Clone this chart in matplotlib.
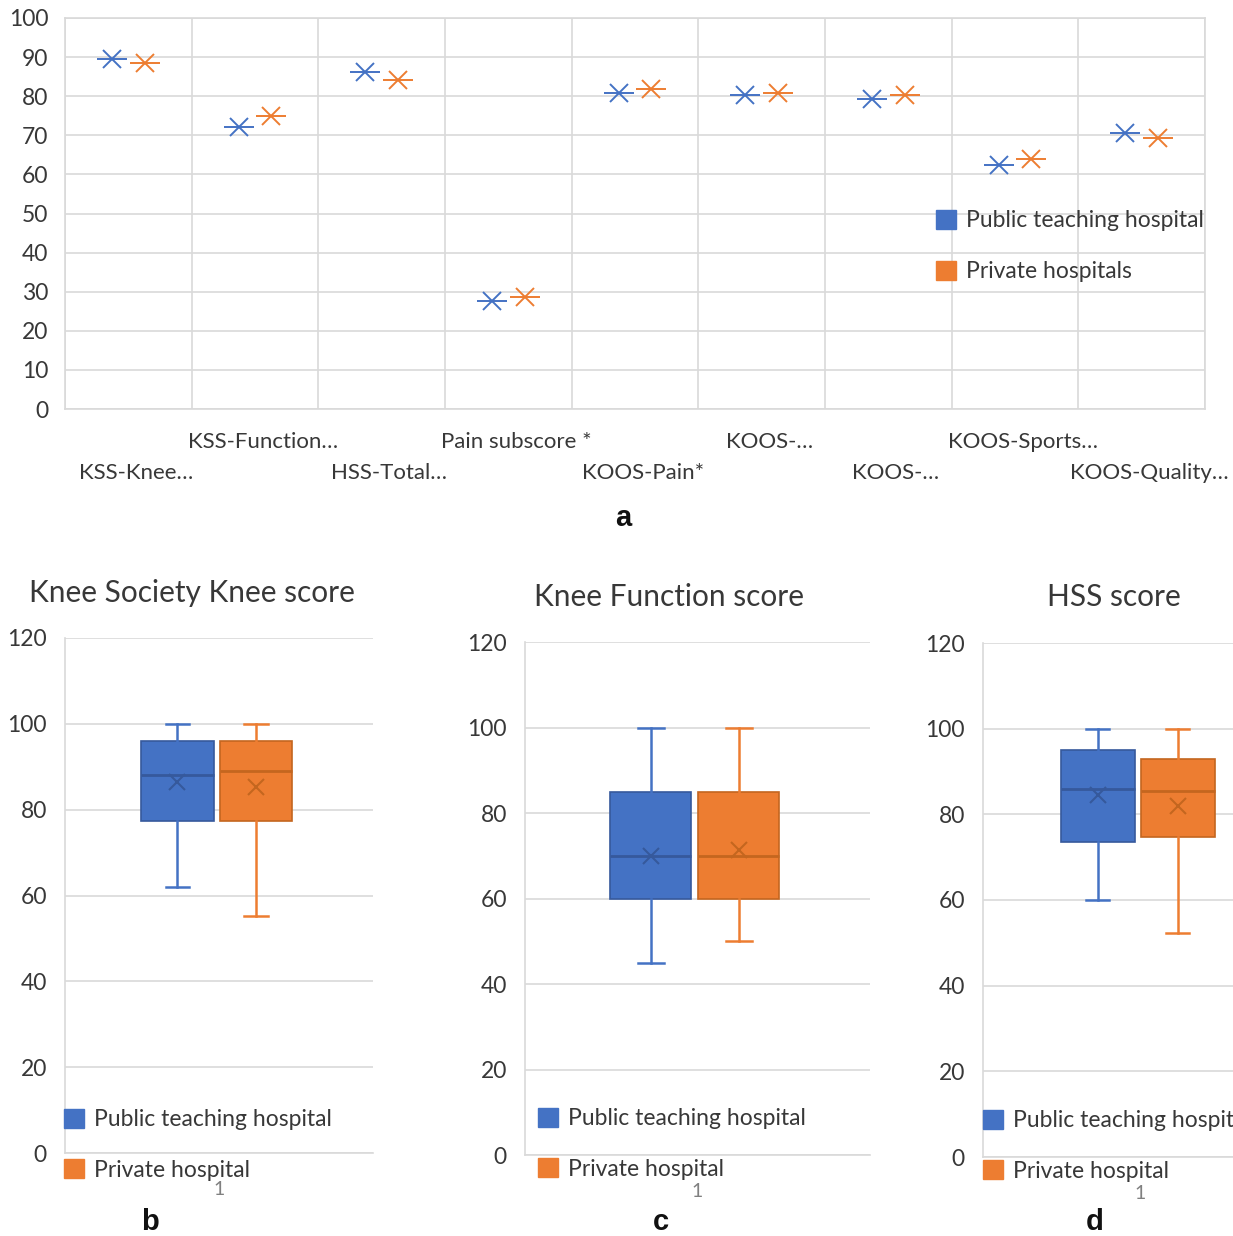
import matplotlib.pyplot as plt
import numpy as np
from matplotlib.patches import Patch

plt.rcParams['font.family'] = ['Lato', 'DejaVu Sans']

W, H = 1233, 1236
blue = '#4472C4'
orange = '#ED7D31'
blue_dark = '#36599c'
orange_dark = '#c4661f'
grid_col = '#d9d9d9'
text_col = '#383838'

# panel a: mean scores per category
categories = ['KSS-Knee…', 'KSS-Function…', 'HSS-Total…', 'Pain subscore *', 'KOOS-Pain*',
              'KOOS-…', 'KOOS-…', 'KOOS-Sports…', 'KOOS-Quality…']
public_means = [89.4, 72.2, 86.2, 27.6, 80.8, 80.3, 79.3, 62.4, 70.6]
private_means = [88.4, 75.0, 84.1, 28.6, 81.8, 80.8, 80.3, 63.9, 69.3]

# panels b-d: box plot summaries
box_titles = ['Knee Society Knee score', 'Knee Function score', 'HSS score']
box_letters = ['b', 'c', 'd']
pub_whislo = [62, 45, 60]
pub_q1 = [77.4, 60, 73.6]
pub_med = [88, 70, 85.8]
pub_q3 = [96, 85, 95.1]
pub_whishi = [100, 100, 100]
pub_mean = [86.4, 70, 84.4]
priv_whislo = [55.3, 50, 52.3]
priv_q1 = [77.4, 60, 74.7]
priv_med = [88.9, 70, 85.4]
priv_q3 = [96, 85, 93.0]
priv_whishi = [100, 100, 100]
priv_mean = [85.2, 71.3, 82.0]

fig = plt.figure(figsize=(W / 100, H / 100), dpi=100)

def px_rect(left, right, top, bottom):
    return [left / W, 1 - bottom / H, (right - left) / W, (bottom - top) / H]

# ---- panel a ----
ax = fig.add_axes(px_rect(65, 1205, 18, 409))
x = np.arange(len(categories))
for vals, off, col in [(public_means, -0.13, blue), (private_means, 0.13, orange)]:
    ax.plot(x + off, vals, ls='none', marker='x', ms=13, mew=1.4, color=col)
    ax.plot(x + off, vals, ls='none', marker='_', ms=21, mew=1.4, color=col)
ax.set_xlim(-0.5, len(categories) - 0.5)
ax.set_ylim(0, 100)
ax.set_yticks(np.arange(0, 101, 10))
ax.set_xticks(x)
ax.set_xticklabels([])
# staggered category labels (two rows, like the original)
trans = ax.get_xaxis_transform()
for i, c in enumerate(categories):
    ypix = 442 if i % 2 else 473
    ax.text(i + 0.06, -(ypix - 409) / 391, c, transform=trans, ha='center', va='center',
            fontsize=16, color=text_col)
ax.set_xticks(np.arange(-0.5, len(categories), 1), minor=True)
ax.grid(axis='y', which='major', color=grid_col, lw=1.2)
ax.grid(axis='x', which='minor', color=grid_col, lw=1.2)
ax.tick_params(which='both', length=0, labelsize=16.5, colors=text_col)
ax.tick_params(axis='y', pad=12)
for s in ax.spines.values():
    s.set_color(grid_col)
    s.set_linewidth(1.2)
ax.set_axisbelow(True)
handles = [Patch(facecolor=blue, edgecolor=blue), Patch(facecolor=orange, edgecolor=orange)]
ax.legend(handles, ['Public teaching hospital', 'Private hospitals'], loc='upper left',
          bbox_to_anchor=(936 / W, 1 - 210 / H), bbox_transform=fig.transFigure,
          frameon=False, fontsize=16.5, handlelength=0.87, handleheight=0.87,
          handletextpad=0.42, labelspacing=1.3, borderpad=0, borderaxespad=0,
          labelcolor=text_col)
fig.text(623 / W, 1 - 518 / H, 'a', ha='center', va='center', fontsize=21,
         fontweight='bold', family='Liberation Sans', color='#111111')

# ---- panels b-d ----
box_rects = [(65, 373, 638, 1153), (525, 870, 642, 1155), (983, 1297, 643, 1157)]
title_pos = [(192, 593), (669, 597), (1114, 597)]
letter_x = [150, 661, 1095]
legend_pos = [(64, 1109), (538, 1108), (983, 1110)]
for i in range(3):
    l, r, t, b = box_rects[i]
    bx = fig.add_axes(px_rect(l, r, t, b))
    pub = dict(whislo=pub_whislo[i], q1=pub_q1[i], med=pub_med[i], q3=pub_q3[i],
               whishi=pub_whishi[i], mean=pub_mean[i], label='')
    priv = dict(whislo=priv_whislo[i], q1=priv_q1[i], med=priv_med[i], q3=priv_q3[i],
                whishi=priv_whishi[i], mean=priv_mean[i], label='')
    for st, pos, col, dk in [(pub, 1 - 0.135, blue, blue_dark), (priv, 1 + 0.12, orange, orange_dark)]:
        bx.bxp([st], positions=[pos], widths=0.235, showmeans=True, showfliers=False,
               patch_artist=True, manage_ticks=False, capwidths=0.075,
               boxprops=dict(facecolor=col, edgecolor=dk, lw=1.2),
               medianprops=dict(color=dk, lw=2),
               whiskerprops=dict(color=col, lw=1.8),
               capprops=dict(color=col, lw=1.8),
               meanprops=dict(marker='x', markeredgecolor=dk, ms=11, mew=1.5))
    bx.set_xlim(0.5, 1.5)
    bx.set_ylim(0, 120)
    bx.set_yticks(np.arange(0, 121, 20))
    bx.set_xticks([1])
    bx.set_xticklabels(['1'], fontsize=14)
    bx.grid(axis='y', color=grid_col, lw=1.2)
    bx.set_axisbelow(True)
    bx.tick_params(length=0, colors=text_col)
    bx.tick_params(axis='y', labelsize=16.5, pad=13)
    bx.tick_params(axis='x', pad=20, labelcolor='#808080')
    for side in ['top', 'right']:
        bx.spines[side].set_visible(False)
    for side in ['left', 'bottom']:
        bx.spines[side].set_color(grid_col)
        bx.spines[side].set_linewidth(1.2)
    lx, ly = legend_pos[i]
    bx.legend(handles, ['Public teaching hospital', 'Private hospital'], loc='upper left',
              bbox_to_anchor=(lx / W, 1 - ly / H), bbox_transform=fig.transFigure,
              frameon=False, fontsize=16.5, handlelength=0.87, handleheight=0.87,
              handletextpad=0.42, labelspacing=1.27, borderpad=0, borderaxespad=0,
              labelcolor=text_col)
    tx, ty = title_pos[i]
    fig.text(tx / W, 1 - ty / H, box_titles[i], ha='center', va='center',
             fontsize=21.5, color=text_col)
    fig.text(letter_x[i] / W, 1 - 1222 / H, box_letters[i], ha='center', va='center',
             fontsize=21, fontweight='bold', family='Liberation Sans', color='#111111')

fig.savefig('out.png', dpi=100)
